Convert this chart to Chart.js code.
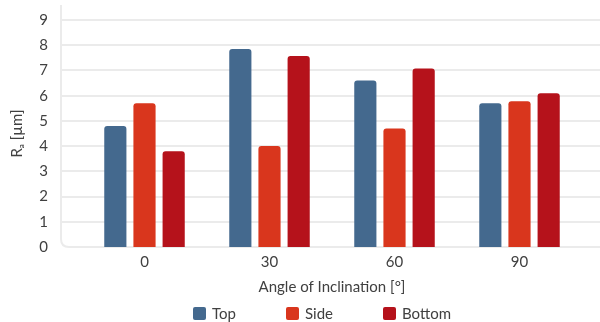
<!DOCTYPE html>
<html>
<head>
<meta charset="utf-8">
<script src="https://cdn.jsdelivr.net/npm/chart.js@4/dist/chart.umd.min.js"></script>
<style>
  html, body { margin: 0; padding: 0; background: #fff; }
  #wrap { position: relative; width: 600px; height: 322px; }
  #legend {
    position: absolute; left: 44px; right: 0; top: 305px; height: 16px;
    display: flex; justify-content: center; gap: 50px;
    font: 15px Lato, sans-serif; color: #404040;
  }
  #legend span { display: flex; align-items: center; }
  #legend i { display: inline-block; width: 13px; height: 13px; border-radius: 2px; margin-right: 6px; }
</style>
</head>
<body>
<div id="wrap">
  <canvas id="chart" width="600" height="322"></canvas>
  <div id="legend"></div>
</div>
<script>
// angle of inclination categories
const angles = ['0', '30', '60', '90'];
const seriesNames = ['Top', 'Side', 'Bottom'];
const topValues = [4.8, 7.85, 6.6, 5.7];
const sideValues = [5.7, 4.0, 4.7, 5.78];
const bottomValues = [3.8, 7.57, 7.08, 6.1];
const colors = ['#44698e', '#d9361d', '#b5121b'];

const FONT = 'Lato, sans-serif';

// grid lines and the rounded left/bottom frame, wider than the bar area
const frame = {
  id: 'frame',
  beforeDatasetsDraw(chart) {
    const { ctx } = chart;
    const y = chart.scales.y;
    const left = 61, right = 600, r = 8;
    const base = y.getPixelForValue(0);
    ctx.save();
    ctx.strokeStyle = '#ebebeb';
    ctx.lineWidth = 2;
    y.ticks.forEach(t => {
      if (t.value === 0) return;
      const py = Math.round(y.getPixelForValue(t.value));
      ctx.beginPath();
      ctx.moveTo(left, py);
      ctx.lineTo(right, py);
      ctx.stroke();
    });
    ctx.beginPath();
    ctx.moveTo(left, 5);
    ctx.lineTo(left, base - r);
    ctx.quadraticCurveTo(left, base, left + r, base);
    ctx.lineTo(right, base);
    ctx.stroke();
    ctx.restore();
  }
};

const datasets = [topValues, sideValues, bottomValues].map((vals, i) => ({
  label: seriesNames[i],
  data: vals,
  backgroundColor: colors[i],
  borderRadius: { topLeft: 3, topRight: 3 },
  borderSkipped: 'bottom',
  categoryPercentage: 0.7,
  barPercentage: 0.76
}));

new Chart(document.getElementById('chart'), {
  type: 'bar',
  data: { labels: angles, datasets },
  plugins: [frame],
  options: {
    responsive: false,
    animation: false,
    layout: { padding: { top: 20, right: 18, bottom: 19, left: 0 } },
    plugins: {
      legend: { display: false },
      tooltip: { enabled: false }
    },
    scales: {
      x: {
        grid: { display: false, drawTicks: false },
        border: { display: false },
        ticks: { color: '#404040', font: { family: FONT, size: 15 }, padding: 6 },
        title: {
          display: true,
          text: 'Angle of Inclination [°]',
          color: '#404040',
          font: { family: FONT, size: 15 },
          padding: { top: 1, bottom: 7 }
        }
      },
      y: {
        min: 0,
        max: 9,
        afterFit: (scale) => {
          scale.width = 82;
          scale.paddingTop = 0;
          scale.paddingBottom = 0;
        },
        grid: { display: false, drawTicks: false },
        border: { display: false },
        ticks: { stepSize: 1, color: '#404040', font: { family: FONT, size: 15 }, padding: 34 },
        title: {
          display: true,
          text: 'Rₐ [µm]',
          color: '#404040',
          font: { family: FONT, size: 15 },
          padding: { top: 8, bottom: 0 }
        }
      }
    }
  }
});

// legend drawn as html so the item spacing can match
const legend = document.getElementById('legend');
seriesNames.forEach((name, i) => {
  const item = document.createElement('span');
  const box = document.createElement('i');
  box.style.background = colors[i];
  item.appendChild(box);
  item.appendChild(document.createTextNode(name));
  legend.appendChild(item);
});
</script>
</body>
</html>
